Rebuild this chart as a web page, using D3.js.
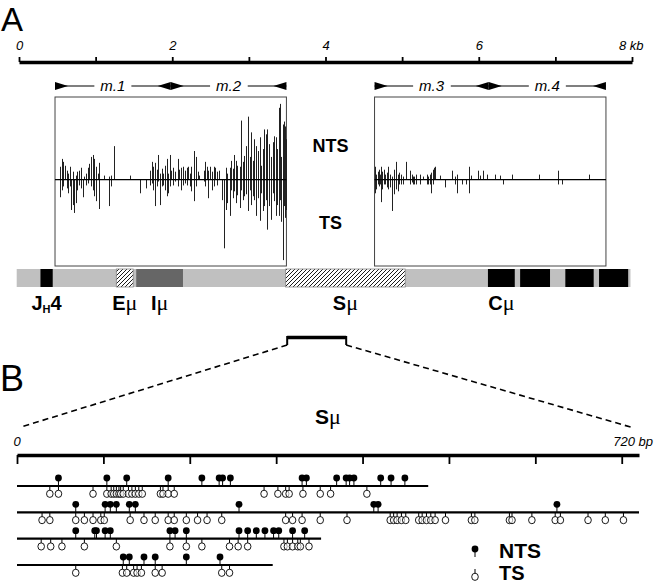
<!DOCTYPE html>
<html>
<head>
<meta charset="utf-8">
<script src="https://cdn.jsdelivr.net/npm/d3@7"></script>
<style>
  body { margin: 0; background: #fff; }
  svg { display: block; font-family: "Liberation Sans", Arial, Helvetica, sans-serif; }
</style>
</head>
<body>
<svg id="chart" width="655" height="585"></svg>
<script>
// ---- data (kb for panel A, bp for panel B) ----
const kbTicks = [0, 1, 2, 3, 4, 5, 6, 7, 8];

const ampNames = ['m.1', 'm.2', 'm.3', 'm.4'];
const ampStart = [0.47, 1.98, 4.64, 6.13];
const ampEnd = [1.98, 3.49, 6.13, 7.66];

// NTS (up) / TS (down) mutation frequency spikes, region m.1-m.2
const leftPos = [0.53,0.54,0.56,0.58,0.60,0.62,0.64,0.67,0.68,0.70,
  0.72,0.74,0.76,0.78,0.81,0.83,0.85,0.87,0.90,0.92,
  0.94,0.96,0.98,1.01,1.03,1.05,1.11,1.18,1.20,1.24,
  1.45,1.58,1.66,1.71,1.73,1.75,1.78,1.80,1.82,1.84,
  1.86,1.88,1.91,1.93,1.95,1.97,1.99,2.01,2.04,2.07,
  2.09,2.11,2.14,2.16,2.19,2.21,2.23,2.25,2.28,2.29,
  2.31,2.33,2.35,2.41,2.43,2.45,2.47,2.49,2.52,2.54,
  2.56,2.58,2.61,2.65,2.68,2.70,2.72,2.75,2.77,2.79,
  2.81,2.83,2.85,2.88,2.90,2.92,2.94,2.96,2.99,3.01,
  3.03,3.05,3.07,3.09,3.12,3.14,3.16,3.18,3.20,3.22,
  3.24,3.26,3.29,3.31,3.33,3.35,3.37,3.39,3.41,3.42,
  3.44,3.46,3.47,3.48];
const leftNTS = [13,12,21,18,14,9,6,13,0,8,
  0,4,8,9,12,0,3,6,12,16,
  23,25,21,13,6,17,4,3,4,34,
  4,0,0,9,18,13,17,10,25,6,
  11,6,14,21,6,25,9,12,8,21,
  10,12,13,9,12,13,6,13,21,29,
  23,8,4,9,18,13,9,13,8,13,
  12,8,9,0,0,12,6,12,19,11,
  25,19,14,13,60,18,24,34,64,23,
  48,19,41,34,29,43,14,31,51,46,
  51,36,23,38,44,43,31,73,77,23,
  56,59,54,41];
const leftTS = [18,0,11,7,0,9,14,7,31,26,
  34,24,11,6,9,18,0,6,4,0,
  7,11,17,22,0,30,0,27,7,0,
  0,14,9,6,4,11,27,7,2,26,
  7,6,11,17,14,7,0,6,2,7,
  0,11,6,4,6,0,7,12,22,11,
  7,0,0,2,7,0,19,0,11,7,
  0,6,0,21,70,31,24,37,11,19,
  12,24,16,29,11,21,17,15,32,11,
  26,17,21,37,19,42,14,32,27,21,
  51,27,41,14,22,37,26,37,21,43,
  82,27,39,31];

// region m.3-m.4
const rightPos = [4.65,4.66,4.68,4.70,4.71,4.73,4.74,4.76,4.78,4.80,
  4.82,4.84,4.87,4.89,4.90,4.92,4.94,4.96,4.98,5.01,
  5.05,5.10,5.13,5.14,5.16,5.18,5.23,5.27,5.32,5.34,
  5.37,5.38,5.40,5.42,5.43,5.50,5.56,5.65,5.69,5.71,
  5.78,5.84,5.87,5.90,5.99,6.02,6.06,6.11,6.21,6.28,
  6.31,6.43,6.78,7.03,7.08,7.44];
const rightNTS = [13,5,8,10,5,13,8,10,5,7,
  13,5,3,8,10,18,5,7,5,3,
  18,9,5,3,3,5,5,3,5,3,
  5,7,10,12,13,4,0,9,3,5,
  0,0,13,4,9,4,9,5,5,4,
  0,5,5,9,0,5];
const rightTS = [14,10,5,7,5,23,10,5,5,8,
  10,8,32,10,15,10,12,5,5,5,
  0,5,3,5,5,5,5,0,5,5,
  5,14,5,0,0,0,8,0,5,14,
  5,5,14,0,0,0,0,0,0,0,
  5,0,0,5,5,0];

// IgH locus elements
const locusStart = -0.03, locusEnd = 7.98;
const featureLabel = ['JH4', 'Eμ', 'Iμ', 'Sμ', 'Cμ', '', '', ''];
const featureKind = ['block', 'hatch', 'grey', 'hatch', 'block', 'block', 'block', 'block'];
const featureStart = [0.28, 1.27, 1.53, 3.48, 6.12, 6.54, 7.13, 7.57];
const featureEnd = [0.44, 1.49, 2.14, 5.04, 6.47, 6.93, 7.50, 7.95];
const zoomRegion = [3.50, 4.27];

// panel B: 720 bp of Sμ, one line per sequence
const bpTicks = [0, 100, 200, 300, 400, 500, 600, 700];
const rowEnds = [476, 720, 352, 296];
const ntsRow1 = [48, 104, 127, 175, 214, 234, 238, 247, 330, 335, 370, 381, 385, 390, 421, 433, 449];
const tsRow1 = [38, 48, 88, 104, 109, 112, 115, 118, 120, 123, 129, 133, 137, 141, 145, 166, 169, 175, 182, 286, 302, 311, 315, 331, 351, 363, 405];
const ntsRow2 = [68, 102, 108, 115, 130, 137, 257, 413, 418, 625];
const tsRow2 = [29, 38, 68, 78, 88, 97, 101, 131, 147, 160, 175, 182, 196, 209, 220, 237, 311, 319, 330, 351, 382, 432, 436, 440, 445, 450, 465, 469, 474, 479, 484, 496, 526, 530, 570, 573, 596, 623, 629, 661, 681, 702];
const ntsRow3 = [68, 90, 92, 102, 108, 177, 183, 196, 257, 267, 277, 287, 297, 303, 319, 333];
const tsRow3 = [28, 39, 52, 78, 115, 177, 196, 214, 246, 256, 267, 309, 313, 319, 325, 328, 338];
const ntsRow4 = [123, 130, 147, 160, 196, 235];
const tsRow4 = [68, 122, 127, 135, 139, 144, 160, 168, 237, 246];

const FONT = '"Liberation Sans", Arial, Helvetica, sans-serif';
const SERIF = '"Liberation Serif", "Times New Roman", serif';

let svg = d3.select('#chart');

let defs = svg.append('defs');
let hatch = defs.append('pattern')
  .attr('id', 'hatch')
  .attr('patternUnits', 'userSpaceOnUse')
  .attr('width', 4).attr('height', 4);
hatch.append('rect').attr('width', 4).attr('height', 4).attr('fill', '#fff');
hatch.append('path')
  .attr('d', 'M-1,1 l2,-2 M0,4 l4,-4 M3,5 l2,-2')
  .attr('stroke', '#000').attr('stroke-width', 0.9);

// scales
let xA = d3.scaleLinear().domain([0, 8]).range([19, 632]);
let yA = d3.scaleLinear().domain([-88, 84]).range([266, 97]);
let xB = d3.scaleLinear().domain([0, 720]).range([17, 639]);
let yRow = d3.scaleLinear().domain([0, 3]).range([486, 565]);

let crisp = v => Math.round(v) + 0.5;

// ---------- panel A ----------
svg.append('text').attr('x', 1).attr('y', 31)
  .attr('font-size', 33).attr('font-family', FONT).text('A');

let axA = svg.append('g')
  .attr('transform', 'translate(0,62)')
  .call(d3.axisTop(xA).tickValues(kbTicks).tickSize(5).tickSizeOuter(0).tickPadding(7)
    .tickFormat(d => d % 2 ? '' : (d === 8 ? '8 kb' : d)));
axA.attr('font-family', FONT).attr('font-size', 13);
axA.select('.domain').attr('stroke', '#000').attr('stroke-width', 3.5);
axA.selectAll('.tick line').attr('stroke', '#000').attr('stroke-width', 1.8);
axA.selectAll('.tick text').attr('font-style', 'italic').attr('fill', '#000');
axA.selectAll('.tick text').filter(d => d === 8).attr('text-anchor', 'end').attr('x', 11);

// amplicon arrows
let ampG = svg.append('g');
ampNames.forEach(function(name, i) {
  let x0 = xA(ampStart[i]), x1 = xA(ampEnd[i]), y = 86;
  ampG.append('line').attr('x1', x0).attr('x2', x1).attr('y1', y).attr('y2', y)
    .attr('stroke', '#000').attr('stroke-width', 1.2);
  ampG.append('path').attr('d', `M${x0},${y - 4}L${x0 + 13},${y}L${x0},${y + 4}Z`).attr('fill', '#000');
  ampG.append('path').attr('d', `M${x1},${y - 4}L${x1 - 13},${y}L${x1},${y + 4}Z`).attr('fill', '#000');
  let bg = ampG.append('rect').attr('fill', '#fff');
  let t = ampG.append('text')
    .attr('x', (x0 + x1) / 2).attr('y', y + 5)
    .attr('text-anchor', 'middle')
    .attr('font-size', 15).attr('font-style', 'italic').attr('font-family', FONT)
    .text(name);
  let bb = t.node().getBBox();
  bg.attr('x', bb.x - 6).attr('y', y - 3).attr('width', bb.width + 12).attr('height', 6);
});

// frequency boxes
let boxes = [
  {start: ampStart[0], end: ampEnd[1], pos: leftPos, nts: leftNTS, ts: leftTS},
  {start: ampStart[2], end: ampEnd[3], pos: rightPos, nts: rightNTS, ts: rightTS}
];
boxes.forEach(function(b) {
  let g = svg.append('g');
  g.append('rect')
    .attr('x', xA(b.start)).attr('y', yA(84))
    .attr('width', xA(b.end) - xA(b.start)).attr('height', yA(-88) - yA(84))
    .attr('fill', 'none').attr('stroke', '#444').attr('stroke-width', 1);
  g.selectAll('line.up').data(b.pos).enter().append('line')
    .attr('x1', d => crisp(xA(d))).attr('x2', d => crisp(xA(d)))
    .attr('y1', yA(0)).attr('y2', (d, i) => yA(b.nts[i]))
    .attr('stroke', '#222').attr('stroke-width', 1);
  g.selectAll('line.down').data(b.pos).enter().append('line')
    .attr('x1', d => crisp(xA(d))).attr('x2', d => crisp(xA(d)))
    .attr('y1', yA(0)).attr('y2', (d, i) => yA(-b.ts[i]))
    .attr('stroke', '#222').attr('stroke-width', 1);
  g.append('line')
    .attr('x1', xA(b.start)).attr('x2', xA(b.end))
    .attr('y1', yA(0)).attr('y2', yA(0))
    .attr('stroke', '#000').attr('stroke-width', 1.2);
});

let midKb = (ampEnd[1] + ampStart[2]) / 2;
svg.append('text').attr('x', xA(midKb)).attr('y', 152).attr('text-anchor', 'middle')
  .attr('font-size', 18).attr('font-weight', 'bold').attr('font-family', FONT).text('NTS');
svg.append('text').attr('x', xA(midKb)).attr('y', 229).attr('text-anchor', 'middle')
  .attr('font-size', 18).attr('font-weight', 'bold').attr('font-family', FONT).text('TS');

// locus bar
let locus = svg.append('g');
locus.append('rect')
  .attr('x', xA(locusStart)).attr('y', 269)
  .attr('width', xA(locusEnd) - xA(locusStart)).attr('height', 18)
  .attr('fill', '#c0c0c0');
featureKind.forEach(function(kind, i) {
  let r = locus.append('rect')
    .attr('x', xA(featureStart[i])).attr('y', 269)
    .attr('width', xA(featureEnd[i]) - xA(featureStart[i])).attr('height', 18);
  if (kind === 'block') r.attr('fill', '#000');
  else if (kind === 'grey') r.attr('fill', '#666');
  else r.attr('fill', 'url(#hatch)').attr('stroke', '#888').attr('stroke-width', 0.8);
});

featureLabel.forEach(function(lab, i) {
  if (!lab) return;
  let cx = xA((featureStart[i] + featureEnd[i]) / 2);
  let t = locus.append('text')
    .attr('x', cx).attr('y', 310)
    .attr('text-anchor', 'middle')
    .attr('font-size', 20).attr('font-weight', 'bold').attr('font-family', FONT);
  if (lab === 'JH4') {
    t.append('tspan').text('J');
    t.append('tspan').attr('font-size', 11).attr('dy', 3).text('H');
    t.append('tspan').attr('dy', -3).text('4');
  } else {
    t.append('tspan').text(lab[0]);
    t.append('tspan').attr('font-weight', 'normal').attr('font-family', SERIF)
      .attr('font-size', 22).text(lab.slice(1));
  }
});

// zoom bracket + dashed lines
let zx0 = xA(zoomRegion[0]), zx1 = xA(zoomRegion[1]);
svg.append('line').attr('x1', zx0).attr('x2', zx1).attr('y1', 337.5).attr('y2', 337.5)
  .attr('stroke', '#000').attr('stroke-width', 3.5);
[zx0, zx1].forEach(function(x) {
  svg.append('line').attr('x1', x).attr('x2', x).attr('y1', 336).attr('y2', 345)
    .attr('stroke', '#000').attr('stroke-width', 2);
});
svg.append('line').attr('x1', zx0).attr('y1', 345).attr('x2', xB(0) + 4).attr('y2', 427)
  .attr('stroke', '#000').attr('stroke-width', 1.6).attr('stroke-dasharray', '6,4');
svg.append('line').attr('x1', zx1).attr('y1', 345).attr('x2', xB(720) - 5).attr('y2', 428)
  .attr('stroke', '#000').attr('stroke-width', 1.6).attr('stroke-dasharray', '6,4');

// ---------- panel B ----------
svg.append('text').attr('x', 0).attr('y', 391)
  .attr('font-size', 36).attr('font-family', FONT).text('B');

let sLab = svg.append('text').attr('x', xB(360)).attr('y', 424).attr('text-anchor', 'middle')
  .attr('font-size', 21).attr('font-weight', 'bold').attr('font-family', FONT);
sLab.append('tspan').text('S');
sLab.append('tspan').attr('font-weight', 'normal').attr('font-family', SERIF).attr('font-size', 22).text('μ');

svg.append('text').attr('x', xB(0)).attr('y', 446).attr('text-anchor', 'middle')
  .attr('font-size', 13).attr('font-style', 'italic').attr('font-family', FONT).text('0');
svg.append('text').attr('x', 653).attr('y', 446).attr('text-anchor', 'end')
  .attr('font-size', 13).attr('font-style', 'italic').attr('font-family', FONT).text('720 bp');

let axB = svg.append('g')
  .attr('transform', 'translate(0,455)')
  .call(d3.axisBottom(xB).tickValues(bpTicks).tickSize(9).tickSizeOuter(0).tickFormat(''));
axB.select('.domain').attr('stroke', '#000').attr('stroke-width', 3.5);
axB.selectAll('.tick line').attr('stroke', '#000').attr('stroke-width', 1.8);

let ntsRows = [ntsRow1, ntsRow2, ntsRow3, ntsRow4];
let tsRows = [tsRow1, tsRow2, tsRow3, tsRow4];

let drawNTS = function(g, x, y) {
  g.append('line').attr('x1', x).attr('x2', x).attr('y1', y).attr('y2', y - 7)
    .attr('stroke', '#000').attr('stroke-width', 1);
  g.append('circle').attr('cx', x).attr('cy', y - 8).attr('r', 3.4).attr('fill', '#000');
};
let drawTS = function(g, x, y) {
  g.append('line').attr('x1', x).attr('x2', x).attr('y1', y).attr('y2', y + 4.5)
    .attr('stroke', '#000').attr('stroke-width', 1);
  g.append('ellipse').attr('cx', x).attr('cy', y + 7.8).attr('rx', 3.3).attr('ry', 3.6)
    .attr('fill', '#fff').attr('fill-opacity', 0.6).attr('stroke', '#000').attr('stroke-width', 0.9);
};

rowEnds.forEach(function(end, i) {
  let y = yRow(i);
  let g = svg.append('g');
  g.append('line').attr('x1', xB(0)).attr('x2', xB(end)).attr('y1', y).attr('y2', y)
    .attr('stroke', '#000').attr('stroke-width', 2.2);
  ntsRows[i].forEach(bp => drawNTS(g, xB(bp), y));
  tsRows[i].forEach(bp => drawTS(g, xB(bp), y));
});

// legend
let leg = svg.append('g');
drawNTS(leg, 475, 557);
drawTS(leg, 475, 569);
leg.append('text').attr('x', 499).attr('y', 558)
  .attr('font-size', 21).attr('font-weight', 'bold').attr('font-family', FONT).text('NTS');
leg.append('text').attr('x', 499).attr('y', 580)
  .attr('font-size', 20).attr('font-weight', 'bold').attr('font-family', FONT).text('TS');
</script>
</body>
</html>
